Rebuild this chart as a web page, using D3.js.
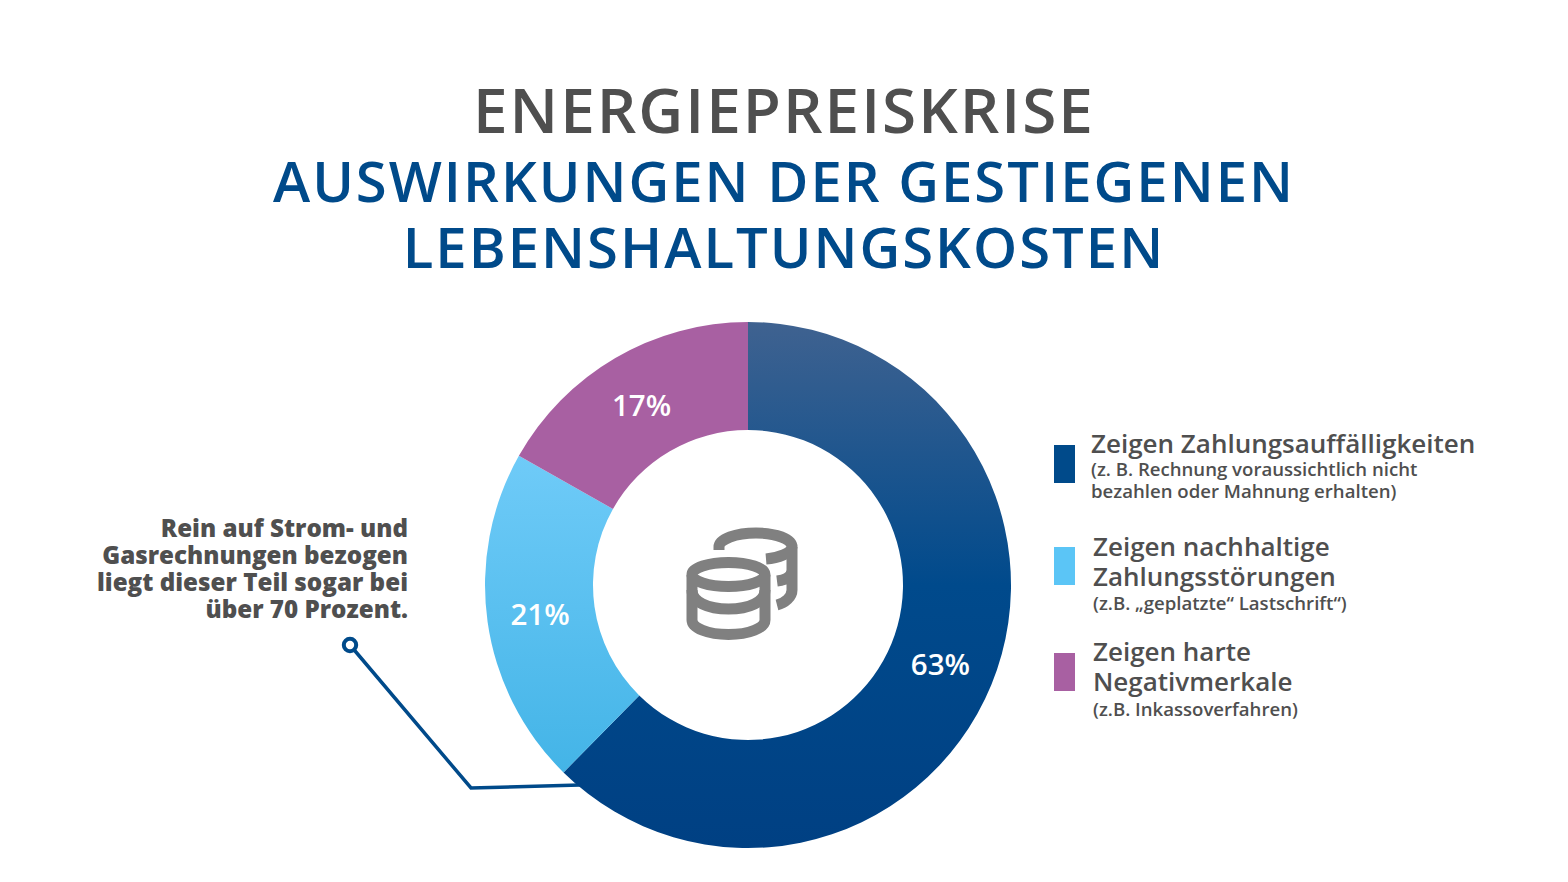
<!DOCTYPE html>
<html>
<head>
    <meta charset="utf-8">
    <script src="https://cdn.jsdelivr.net/npm/d3@7/dist/d3.min.js"></script>
    <style>
        html, body { margin: 0; background: #fff; }
        text { font-family: "Open Sans", sans-serif; }
    </style>
</head>
<body>
<div id="viz"></div>
<script>
//Chart data
var categories = ["Zeigen Zahlungsauffälligkeiten", "Zeigen nachhaltige Zahlungsstörungen", "Zeigen harte Negativmerkale"];
var shares = [63, 21, 17];
var shareLabels = ["63%", "21%", "17%"];
var titleLines = ["ENERGIEPREISKRISE", "AUSWIRKUNGEN DER GESTIEGENEN", "LEBENSHALTUNGSKOSTEN"];
var calloutLines = ["Rein auf Strom- und", "Gasrechnungen bezogen", "liegt dieser Teil sogar bei", "über 70 Prozent."];
var legendHeads = [["Zeigen Zahlungsauffälligkeiten"], ["Zeigen nachhaltige", "Zahlungsstörungen"], ["Zeigen harte", "Negativmerkale"]];
var legendNotes = [["(z. B. Rechnung voraussichtlich nicht", "bezahlen oder Mahnung erhalten)"], ["(z.B. „geplatzte“ Lastschrift“)"], ["(z.B. Inkassoverfahren)"]];

var width = 1568, height = 882;
var cx = 748, cy = 585, outerR = 263, innerR = 155;
var grey = "#4f4f4f", blue = "#004a8a";

var svg = d3.select("#viz").append("svg").attr("width", width).attr("height", height).style("display", "block");
var defs = svg.append("defs");

//Vertical gradients for the slices
var gradStops = [
    [["0%", "#3f6290"], ["50%", "#004a8c"], ["100%", "#004083"]],
    [["0%", "#6fcbf8"], ["100%", "#43b4e7"]],
    [["0%", "#a860a2"], ["100%", "#a860a2"]]
];
gradStops.forEach(function(stops, i) {
    var g = defs.append("linearGradient").attr("id", "slice" + i)
        .attr("gradientUnits", "userSpaceOnUse")
        .attr("x1", 0).attr("x2", 0);
    if (i === 1) { g.attr("y1", -130).attr("y2", 190); } else { g.attr("y1", -outerR).attr("y2", outerR); }
    stops.forEach(function(s) { g.append("stop").attr("offset", s[0]).attr("stop-color", s[1]); });
});

//Title
var titleY = [133, 201.5, 267.5];
var titleSize = [62, 56.2, 56.2];
svg.append("g").selectAll("text").data(titleLines).enter().append("text")
    .attr("x", 784)
    .attr("y", function(d, i) { return titleY[i]; })
    .attr("text-anchor", "middle")
    .attr("font-size", function(d, i) { return titleSize[i]; })
    .attr("font-weight", 600)
    .attr("letter-spacing", 2)
    .attr("fill", function(d, i) { return i === 0 ? grey : blue; })
    .text(function(d) { return d; });

//Callout leader goes behind the donut
var leader = [[350, 645], [471, 788], [580, 785]];
svg.append("path").attr("d", d3.line()(leader))
    .attr("fill", "none").attr("stroke", blue).attr("stroke-width", 3.5);
svg.append("circle").attr("cx", 350).attr("cy", 645).attr("r", 6.2)
    .attr("fill", "#fff").attr("stroke", blue).attr("stroke-width", 4);

//Donut
var pie = d3.pie().sort(null)(shares);
var arc = d3.arc().innerRadius(innerR).outerRadius(outerR);
var donut = svg.append("g").attr("transform", "translate(" + cx + "," + cy + ")");
donut.selectAll("path").data(pie).enter().append("path")
    .attr("d", arc)
    .attr("fill", function(d, i) { return "url(#slice" + i + ")"; });
donut.selectAll("text").data(pie).enter().append("text")
    .attr("transform", function(d) { return "translate(" + arc.centroid(d) + ")"; })
    .attr("dx", -1)
    .attr("dy", "0.38em")
    .attr("text-anchor", "middle")
    .attr("font-size", 29.5)
    .attr("font-weight", 600)
    .attr("fill", "#fff")
    .text(function(d, i) { return shareLabels[i]; });

//Coin icon
var coins = svg.append("g").attr("fill", "none").attr("stroke", "#808080").attr("stroke-width", 11);
coins.append("path").attr("d", "M719 550 V547 C719 539 736 533 756 533 C776 533 792 539 792 547 C792 553 778 558 766 559");
coins.append("path").attr("d", "M792 547 V590 C792 597 785 603 777 605 M777 581 C785 580 792 577 792 570");
coins.append("ellipse").attr("cx", 728.5).attr("cy", 574.5).attr("rx", 36.5).attr("ry", 12);
coins.append("path").attr("d", "M692 575 V620 C692 628 708 634.5 728.5 634.5 C749 634.5 765 628 765 620 V575");
coins.append("path").attr("d", "M692 590 C692 602 708 609 728.5 609 C749 609 765 602 765 590");

//Callout text
svg.append("g").selectAll("text").data(calloutLines).enter().append("text")
    .attr("x", 408)
    .attr("y", function(d, i) { return 537 + i * 27; })
    .attr("text-anchor", "end")
    .attr("font-size", 24.2)
    .attr("font-weight", 800)
    .attr("fill", grey)
    .text(function(d) { return d; });

//Legend
var swatchColors = ["#004a8a", "#5bc5f6", "#a860a2"];
var swatchY = [445, 547, 653];
var legendX = [1091, 1093, 1093];
var headY = [[453], [555.5, 585.5], [661, 691]];
var noteY = [[476, 498], [610], [716]];
var legend = svg.append("g");
categories.forEach(function(name, i) {
    legend.append("rect").attr("x", 1054).attr("y", swatchY[i]).attr("width", 21).attr("height", 38).attr("fill", swatchColors[i]);
    legendHeads[i].forEach(function(t, j) {
        legend.append("text").attr("x", legendX[i]).attr("y", headY[i][j])
            .attr("font-size", 26).attr("font-weight", 600).attr("fill", grey).text(t);
    });
    legendNotes[i].forEach(function(t, j) {
        legend.append("text").attr("x", legendX[i]).attr("y", noteY[i][j])
            .attr("font-size", 18.6).attr("font-weight", 600).attr("fill", grey).text(t);
    });
});
</script>
</body>
</html>
